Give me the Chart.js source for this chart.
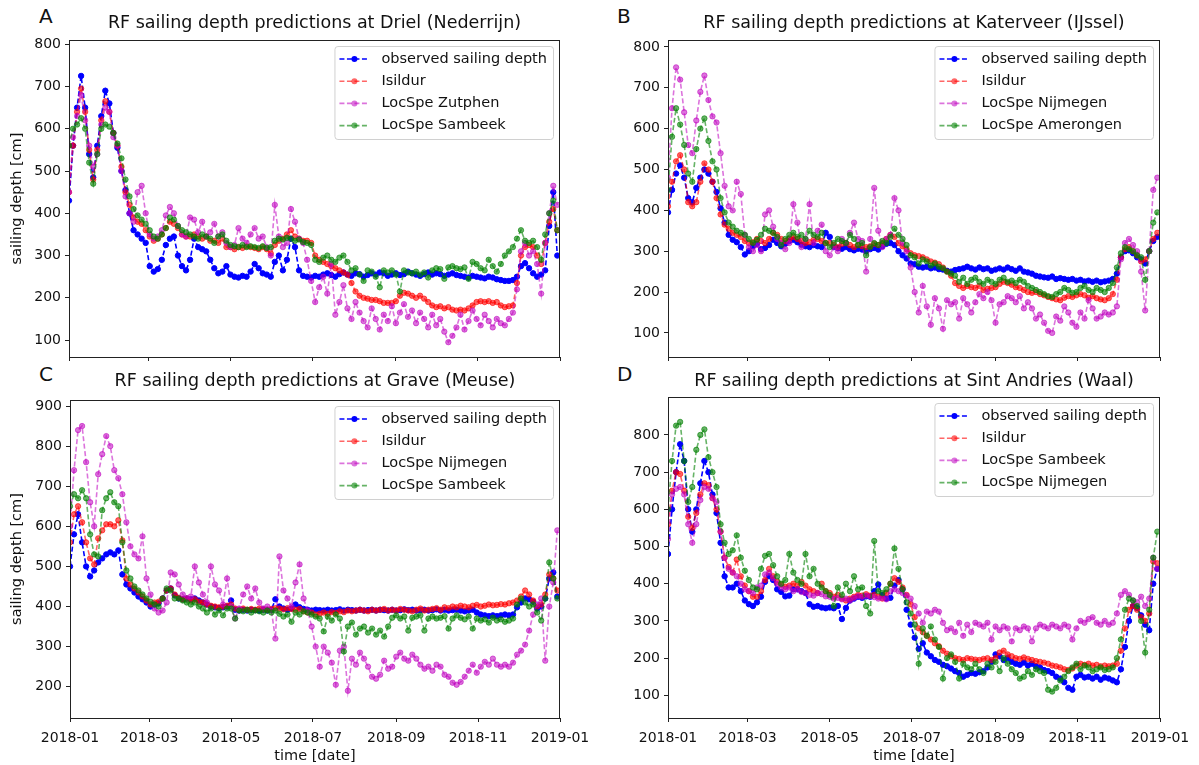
<!DOCTYPE html>
<html>
<head>
<meta charset="utf-8">
<script src="https://cdn.jsdelivr.net/npm/chart.js@4.4.1/dist/chart.umd.min.js"></script>
<style>
  body { margin: 0; background: #fff; width: 1199px; height: 765px; position: relative; overflow: hidden; font-family: "DejaVu Sans", sans-serif; }
  .panel { position: absolute; }
  .letter { position: absolute; font-size: 20px; line-height: 24px; color: #111; }
</style>
</head>
<body>
<div class="letter" style="left:39px;top:4px">A</div>
<div class="letter" style="left:617px;top:4px">B</div>
<div class="letter" style="left:39px;top:362px">C</div>
<div class="letter" style="left:617px;top:362px">D</div>

<div class="panel" style="left:0;top:0"><canvas id="cA" width="600" height="380"></canvas></div>
<div class="panel" style="left:600px;top:0"><canvas id="cB" width="599" height="380"></canvas></div>
<div class="panel" style="left:0;top:360px"><canvas id="cC" width="600" height="405"></canvas></div>
<div class="panel" style="left:600px;top:360px"><canvas id="cD" width="599" height="405"></canvas></div>

<script>
// day of year (2018), one sample every 3 days
const days = [0,3,6,9,12,15,18,21,24,27,30,33,36,39,42,45,48,51,54,57,60,63,66,69,72,75,78,81,84,87,90,93,96,99,102,105,108,111,114,117,120,123,126,129,132,135,138,141,144,147,150,153,156,159,162,165,168,171,174,177,180,183,186,189,192,195,198,201,204,207,210,213,216,219,222,225,228,231,234,237,240,243,246,249,252,255,258,261,264,267,270,273,276,279,282,285,288,291,294,297,300,303,306,309,312,315,318,321,324,327,330,333,336,339,342,345,348,351,354,357,360,363];

const xTickDays = [0, 59, 120, 181, 243, 304, 365];
const xTickLabels = ["2018-01", "2018-03", "2018-05", "2018-07", "2018-09", "2018-11", "2019-01"];
const yTicks100 = [100, 200, 300, 400, 500, 600, 700, 800];
const yTicks200 = [200, 300, 400, 500, 600, 700, 800, 900];

// A - Driel (Nederrijn)
const labelsA = ["observed sailing depth", "Isildur", "LocSpe Zutphen", "LocSpe Sambeek"];
const drielObs = [430,560,650,725,650,540,485,560,630,690, 660,590,555,500,455,400,360,350,340,330, 275,262,268,290,325,340,345,300,275,265, 290,340,320,315,310,290,270,258,262,275, 255,250,248,252,250,262,280,270,258,255, 250,285,300,265,290,340,320,265,252,250, 248,252,250,255,258,254,250,256,260,255, 252,258,256,250,254,258,255,260,258,252, 255,258,254,256,262,258,255,252,256,260, 255,258,256,252,255,258,254,252,250,248, 252,250,248,246,250,248,244,242,240,240, 242,250,275,282,270,258,250,255,265,370,450,300];
const drielIsildur = [450,560,640,695,640,550,480,550,620,665, 640,590,560,510,450,420,390,380,375,360, 345,335,340,350,365,380,375,365,350,345, 345,350,345,340,345,335,335,330,340,320, 320,315,320,318,322,320,318,315,320,315, 305,325,335,340,350,360,345,340,335,335, 330,300,290,285,280,275,270,265,260,255, 235,215,205,200,198,195,195,192,188,188, 188,192,205,212,210,205,200,205,198,190, 182,178,180,175,178,172,170,172,170,175, 182,190,192,190,192,188,190,182,178,180, 182,235,300,320,325,320,300,280,330,380,410,360];
const drielZutphen = [450,580,630,680,620,560,510,540,610,650, 640,580,560,500,440,400,380,450,465,400, 350,340,345,360,395,415,400,370,350,345, 390,385,355,380,345,355,375,345,355,330, 320,325,365,340,330,350,365,340,345,320, 300,420,345,320,330,410,380,340,330,290, 240,190,225,250,210,280,160,190,230,175, 150,190,165,145,130,175,150,125,160,145, 180,140,165,185,155,170,140,165,150,130, 160,135,150,120,95,110,130,160,125,145, 170,150,135,160,145,130,150,140,135,150, 165,220,310,330,300,310,280,210,330,400,465,420];
const drielSambeek = [560,600,610,625,600,520,470,540,600,610, 605,590,565,530,480,440,410,395,385,375, 360,345,340,350,365,390,385,370,360,355, 350,345,340,350,345,340,330,345,350,335, 325,322,320,325,320,322,320,318,322,318, 320,335,340,338,342,340,335,338,332,330, 325,290,285,295,300,290,285,295,300,285, 265,270,255,240,265,262,250,225,265,260, 265,255,215,265,260,258,262,255,260,248, 265,270,268,245,272,275,270,268,272,245, 285,280,270,265,290,275,262,280,300,310, 320,340,360,335,330,335,320,290,350,400,430,360];

// B - Katerveer (IJssel)
const labelsB = ["observed sailing depth", "Isildur", "LocSpe Nijmegen", "LocSpe Amerongen"];
const katerObs = [395,450,490,510,480,430,420,455,480,500, 490,470,445,405,370,340,328,322,310,292, 300,312,318,305,308,315,328,320,312,318, 325,328,322,316,312,310,315,312,310,345, 335,310,308,306,310,305,302,306,304,300, 305,308,304,312,318,320,315,300,290,282, 270,268,262,260,262,258,260,256,255,252, 250,254,256,258,262,258,255,260,256,258, 252,255,258,255,260,256,252,258,250,248, 245,240,238,236,235,238,232,234,232,230, 232,228,230,226,228,225,228,224,226,228, 232,245,285,300,302,295,285,280,270,300,325,335];
const katerIsildur = [410,470,520,535,500,420,410,420,470,515, 500,470,430,390,365,355,345,340,335,325, 320,322,330,325,320,330,345,340,330,325, 330,335,330,325,320,322,328,330,325,320, 320,315,310,318,320,315,310,315,312,310, 312,318,315,320,330,340,335,320,312,305, 295,290,288,285,280,275,272,268,260,250, 240,222,215,210,215,212,210,215,205,208, 210,212,220,225,222,218,212,210,205,200, 198,200,195,192,188,185,182,180,186,190, 188,192,195,192,186,190,185,182,180,185, 195,230,285,305,310,300,290,275,280,300,330,345];
const katerNijmegen = [480,650,750,720,640,560,540,620,690,730, 670,630,615,540,460,410,400,470,440,340, 310,300,315,300,390,400,360,330,320,305, 320,415,370,310,330,415,320,350,365,300, 290,310,300,330,320,345,370,330,325,250, 330,455,350,310,330,340,430,400,320,300, 260,200,150,215,165,120,185,160,110,180, 170,175,135,185,170,150,175,195,185,200, 180,125,170,175,190,185,175,190,160,175, 160,135,145,125,105,100,140,130,165,150, 125,115,150,135,180,160,135,140,150,145, 150,165,280,320,330,315,300,250,155,300,450,480];
const katerAmerongen = [450,580,650,610,560,490,470,550,600,625, 570,520,500,430,395,370,360,350,345,340, 330,320,328,340,355,350,345,335,315,330, 340,345,335,340,330,350,340,335,345,320, 310,320,330,325,320,340,330,315,320,290, 310,320,315,325,320,335,355,340,330,315, 290,285,270,280,275,265,270,262,258,250, 245,240,225,235,220,230,235,225,220,230, 225,220,230,235,225,228,222,230,225,215, 210,205,200,195,190,188,195,200,210,205, 198,200,210,215,205,200,210,205,200,210, 222,260,295,310,305,300,290,285,230,300,370,395];

// C - Grave (Meuse)
const labelsC = ["observed sailing depth", "Isildur", "LocSpe Nijmegen", "LocSpe Sambeek"];
const graveObs = [500,580,630,560,500,475,490,510,520,530, 535,530,540,480,455,445,435,425,418,410, 400,405,408,420,440,445,428,420,418,420, 418,420,415,410,405,400,398,396,398,400, 415,392,390,392,390,392,391,390,392,390, 392,418,400,395,392,395,405,398,394,392, 390,392,391,390,392,390,391,393,390,392, 391,390,392,390,391,392,390,392,391,390, 392,390,391,393,391,392,390,391,392,390, 391,393,390,392,390,391,392,390,388,390, 392,385,380,378,376,378,376,378,380,378, 380,398,410,420,418,412,395,400,420,470,485,425];
const graveIsildur = [560,630,650,610,560,520,505,570,590,605, 605,600,615,565,470,455,445,435,425,415, 405,410,412,420,440,445,430,422,418,420, 415,418,412,410,405,402,400,398,400,402, 405,395,392,395,392,394,392,395,393,392, 394,396,395,393,396,394,392,394,388,385, 385,380,382,385,382,386,384,388,386,390, 388,390,392,390,388,392,390,392,394,390, 392,390,394,392,390,388,392,395,390,392, 394,396,392,398,396,400,398,402,400,398, 402,404,400,402,405,403,404,406,405,408, 410,415,425,440,430,415,400,405,430,480,470,440];
const graveNijmegen = [600,740,840,850,760,660,600,730,780,825, 800,740,720,680,610,550,530,520,575,470, 430,395,385,390,410,485,480,455,430,420, 425,500,460,430,410,500,455,440,405,470, 400,370,395,430,450,420,445,410,395,400, 390,320,525,440,420,400,460,505,420,390, 350,300,250,300,285,260,205,290,300,190, 270,255,285,270,250,225,220,230,265,245, 250,275,285,270,265,280,270,255,245,250, 240,255,250,230,225,210,205,212,225,240, 255,235,250,262,255,270,255,250,255,250, 260,280,290,305,340,380,405,420,265,400,460,590];
const graveSambeek = [650,680,670,690,670,580,530,525,640,670, 685,660,650,560,490,470,450,440,430,420, 412,405,400,420,445,440,420,420,415,410, 405,410,400,395,385,395,380,390,378,395, 395,370,390,388,392,385,390,388,385,390, 385,390,382,375,380,362,385,380,388,385, 380,375,370,338,375,365,380,370,288,350, 360,330,345,350,335,345,330,340,325,350, 372,378,370,375,340,372,375,378,340,370, 375,370,372,376,345,370,378,372,368,375, 345,370,365,368,360,372,365,368,362,365, 370,405,420,410,400,405,385,365,420,510,470,420];

// D - Sint Andries (Waal)
const labelsD = ["observed sailing depth", "Isildur", "LocSpe Sambeek", "LocSpe Nijmegen"];
const andriesObs = [480,600,700,775,730,600,540,600,670,730, 700,640,590,510,420,390,390,400,380,355, 345,340,350,365,405,420,410,385,378,366, 368,385,385,380,375,345,338,340,336,334, 336,334,340,305,335,355,360,365,362,366, 365,380,398,370,360,362,395,410,385,330, 290,255,225,240,215,205,195,190,182,178, 172,165,160,150,155,160,158,162,165,175, 190,210,205,195,200,190,185,182,188,180, 185,178,175,168,165,160,150,145,135,120, 115,150,155,148,150,145,150,142,148,145, 140,135,170,230,300,340,335,315,290,275,400,440];
const andriesIsildur = [560,650,700,695,650,580,550,590,640,670, 665,630,600,540,470,445,430,465,420,395, 380,365,365,380,410,440,420,405,398,392, 395,400,395,405,395,385,380,375,400,380, 375,365,370,360,355,360,365,370,368,372, 368,370,365,360,375,400,415,405,390,370, 345,310,280,270,260,250,240,232,220,212, 205,200,198,195,200,198,196,195,198,200, 195,200,215,220,210,205,200,198,202,198, 195,192,190,188,185,180,178,175,170,168, 172,180,185,182,185,180,182,178,180,178, 180,185,220,280,330,340,330,310,300,320,460,455];
const andriesSambeek = [520,640,655,660,640,560,510,560,625,660, 655,630,620,540,470,440,430,420,400,385, 380,375,390,395,425,430,415,400,390,385, 390,380,385,378,375,370,368,375,372,366, 365,360,362,358,360,355,362,366,365,368, 366,364,360,362,358,380,385,380,375,368, 360,340,320,295,325,320,330,325,295,275, 280,270,295,260,290,270,295,290,285,295, 250,285,275,285,280,245,280,275,285,280, 245,280,290,285,280,290,285,280,290,285, 250,280,300,295,305,310,295,290,300,290, 295,320,370,380,370,355,350,365,340,360,470,440];
const andriesNijmegen = [600,730,825,835,730,620,660,760,800,815, 740,700,660,560,510,480,490,530,470,435, 410,390,385,440,475,480,450,420,400,410, 480,430,410,400,480,420,440,400,390,380, 370,340,390,370,400,380,420,385,390,340, 320,515,380,375,385,400,495,440,385,350, 320,290,185,280,260,285,250,230,145,200, 210,190,145,185,175,170,185,170,160,185, 175,190,165,200,185,170,160,145,150,165, 155,170,165,160,115,110,120,140,150,165, 175,185,170,180,175,165,170,175,168,170, 175,200,250,330,360,355,340,300,215,330,470,540];

const seriesColors = ["rgba(0,0,255,1)", "rgba(255,0,0,0.6)", "rgba(191,0,191,0.55)", "rgba(0,128,0,0.6)"];
const textColor = "#111";
const fontFamily = '"DejaVu Sans", sans-serif';

Chart.defaults.font.family = fontFamily;
Chart.defaults.color = textColor;

// frame (all four spines) + matplotlib-like legend box in the upper right
const framePlugin = {
  id: "frameLegend",
  afterDatasetsDraw(chart) {
    const ctx = chart.ctx;
    const a = chart.chartArea;
    ctx.save();
    ctx.strokeStyle = "#222";
    ctx.lineWidth = 1;
    ctx.strokeRect(Math.round(a.left) + 0.5, Math.round(a.top) + 0.5, Math.round(a.right - a.left) - 1, Math.round(a.bottom - a.top));

    const ds = chart.data.datasets;
    ctx.font = "14.5px " + fontFamily;
    const textW = Math.max(...ds.map(d => ctx.measureText(d.label).width));
    const rowH = 22.2;
    const w = 47 + textW + 6;
    const h = 93;
    const x = a.right - 7 - w;
    const y = a.top + 6;
    ctx.beginPath();
    ctx.roundRect(x + 0.5, y + 0.5, w, h, 3);
    ctx.fillStyle = "rgba(255,255,255,0.8)";
    ctx.fill();
    ctx.strokeStyle = "#d0d0d0";
    ctx.stroke();
    ds.forEach((d, i) => {
      const cy = y + 13 + i * rowH;
      ctx.setLineDash([5, 2.5]);
      ctx.strokeStyle = d.borderColor;
      ctx.lineWidth = 1.6;
      ctx.beginPath();
      ctx.moveTo(x + 5, cy);
      ctx.lineTo(x + 35, cy);
      ctx.stroke();
      ctx.setLineDash([]);
      ctx.beginPath();
      ctx.arc(x + 20, cy, 3, 0, Math.PI * 2);
      ctx.fillStyle = d.borderColor;
      ctx.fill();
      ctx.fillStyle = textColor;
      ctx.textBaseline = "middle";
      ctx.textAlign = "left";
      ctx.fillText(d.label, x + 47, cy);
    });
    ctx.restore();
  }
};

function makePanel(cfg) {
  const datasets = cfg.series.map((vals, k) => ({
    label: cfg.labels[k],
    data: days.map((d, i) => ({ x: d, y: vals[i] })),
    borderColor: seriesColors[k],
    backgroundColor: seriesColors[k],
    pointBackgroundColor: seriesColors[k],
    pointBorderColor: seriesColors[k],
    borderWidth: 1.6,
    borderDash: [5, 2.5],
    pointRadius: 2.7,
    pointBorderWidth: 1,
    tension: 0,
    order: 3 - k
  }));

  new Chart(document.getElementById(cfg.id), {
    type: "line",
    data: { datasets },
    plugins: [framePlugin],
    options: {
      responsive: false,
      animation: false,
      devicePixelRatio: 1,
      layout: { padding: { left: 0, right: cfg.padRight, top: 0, bottom: 0 } },
      plugins: {
        legend: { display: false },
        tooltip: { enabled: false },
        title: {
          display: true,
          text: cfg.title,
          fullSize: false,
          color: textColor,
          font: { size: 17.5, weight: "normal", family: fontFamily },
          padding: { top: cfg.titleTop, bottom: cfg.titleBottom }
        }
      },
      scales: {
        x: {
          type: "linear",
          min: 0,
          max: 365,
          afterBuildTicks: s => { s.ticks = xTickDays.map(v => ({ value: v })); },
          afterFit: s => { s.height = cfg.xHeight; },
          ticks: {
            display: cfg.bottom,
            autoSkip: false,
            maxRotation: 0,
            padding: 8,
            color: textColor,
            font: { size: 14 },
            callback: (v, i) => xTickLabels[i]
          },
          grid: { drawOnChartArea: false, drawTicks: true, tickLength: 4, color: "#222" },
          border: { display: true, color: "#222" },
          title: {
            display: cfg.bottom,
            text: "time [date]",
            color: textColor,
            font: { size: 14.5 },
            padding: { top: 0, bottom: 0 }
          }
        },
        y: {
          type: "linear",
          min: cfg.yMin,
          max: cfg.yMax,
          afterBuildTicks: s => { s.ticks = cfg.yTicks.map(v => ({ value: v })); },
          afterFit: s => { s.width = cfg.yWidth; },
          ticks: { padding: 4, color: textColor, font: { size: 14 } },
          grid: { drawOnChartArea: false, drawTicks: true, tickLength: 4, color: "#222" },
          border: { display: true, color: "#222" },
          title: {
            display: cfg.left,
            text: "sailing depth [cm]",
            color: textColor,
            font: { size: 14.5 },
            padding: { top: 9, bottom: 0 }
          }
        }
      }
    }
  });
}

makePanel({ id: "cA", title: "RF sailing depth predictions at Driel (Nederrijn)", labels: labelsA,
  series: [drielObs, drielIsildur, drielZutphen, drielSambeek], yMin: 60, yMax: 810, yTicks: yTicks100,
  yWidth: 69, padRight: 40, xHeight: 23, titleTop: 12.5, titleBottom: 6.5, left: true, bottom: false });

makePanel({ id: "cB", title: "RF sailing depth predictions at Katerveer (IJssel)", labels: labelsB,
  series: [katerObs, katerIsildur, katerNijmegen, katerAmerongen], yMin: 41, yMax: 817, yTicks: yTicks100,
  yWidth: 68, padRight: 39, xHeight: 23, titleTop: 12.5, titleBottom: 6.5, left: false, bottom: false });

makePanel({ id: "cC", title: "RF sailing depth predictions at Grave (Meuse)", labels: labelsC,
  series: [graveObs, graveIsildur, graveNijmegen, graveSambeek], yMin: 122, yMax: 915, yTicks: yTicks200,
  yWidth: 70, padRight: 40, xHeight: 47, titleTop: 10.5, titleBottom: 8.5, left: true, bottom: true });

makePanel({ id: "cD", title: "RF sailing depth predictions at Sint Andries (Waal)", labels: labelsD,
  series: [andriesObs, andriesIsildur, andriesSambeek, andriesNijmegen], yMin: 39, yMax: 902, yTicks: yTicks100,
  yWidth: 68, padRight: 39, xHeight: 47, titleTop: 10.5, titleBottom: 5.5, left: false, bottom: true });
</script>
</body>
</html>
